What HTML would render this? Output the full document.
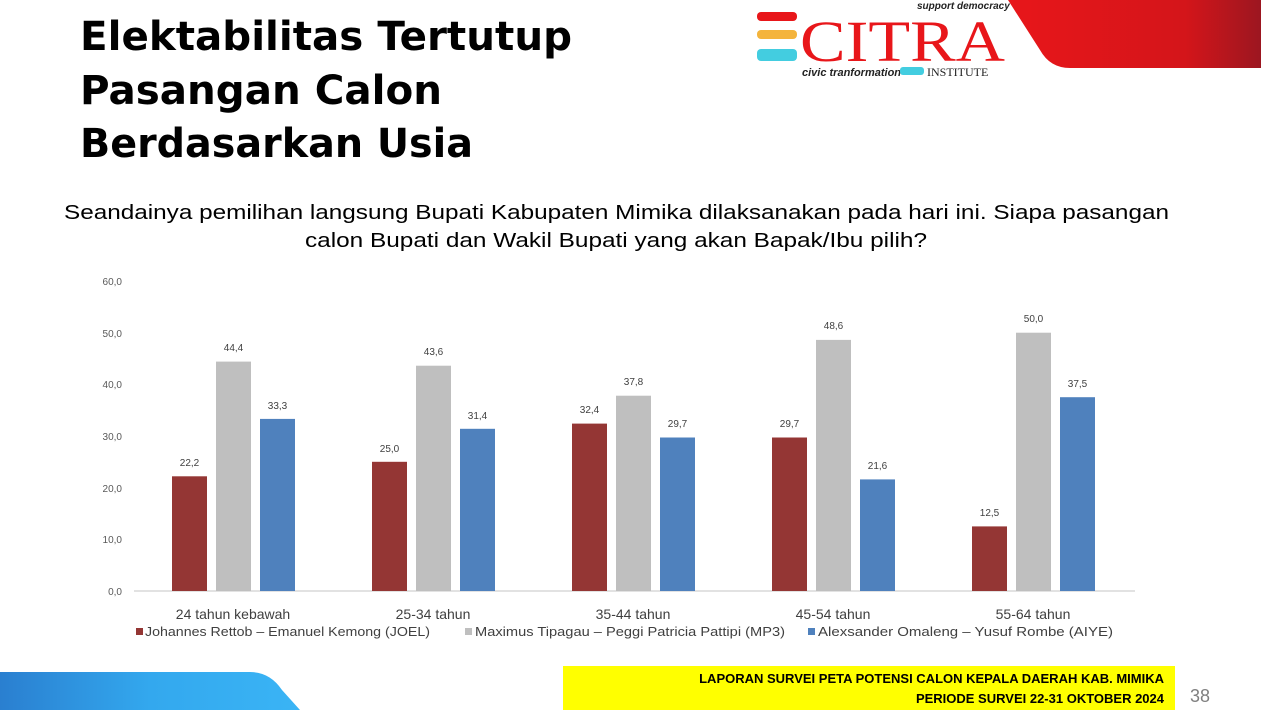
<!DOCTYPE html>
<html><head><meta charset="utf-8"><style>
html,body{margin:0;padding:0;background:#fff;}
body{width:1261px;height:710px;overflow:hidden;position:relative;font-family:"Liberation Sans",sans-serif;}
</style></head><body>
<svg width="1261" height="710" viewBox="0 0 1261 710" xmlns="http://www.w3.org/2000/svg" style="position:absolute;left:0;top:0">
<defs>
<linearGradient id="rg" x1="0" x2="1"><stop offset="0" stop-color="#e8161a"/><stop offset="0.7" stop-color="#d4151a"/><stop offset="1" stop-color="#9c1620"/></linearGradient>
<linearGradient id="bg" x1="0" x2="1"><stop offset="0" stop-color="#2a7fd0"/><stop offset="0.5" stop-color="#33a8ee"/><stop offset="1" stop-color="#3ab4f5"/></linearGradient>
</defs>
<path d="M1008 0 L1261 0 L1261 68 L1070 68 Q1050 68 1040 50 Z" fill="url(#rg)"/>
<rect x="757" y="12" width="40" height="9" rx="4" fill="#e8161a"/>
<rect x="757" y="30" width="40" height="9" rx="4" fill="#f4b43c"/>
<rect x="757" y="49" width="40" height="12" rx="4" fill="#43cde0"/>
<text x="800" y="61" font-family="Liberation Serif,serif" font-size="58" fill="#e8161a" textLength="205" lengthAdjust="spacingAndGlyphs">CITRA</text>
<text x="917" y="9" font-size="10" font-style="italic" font-weight="bold" fill="#222">support democracy</text>
<text x="802" y="76" font-size="11" font-style="italic" font-weight="bold" fill="#222">civic tranformation</text>
<rect x="900" y="67" width="24" height="8" rx="3" fill="#43cde0"/>
<text x="927" y="76" font-family="Liberation Serif,serif" font-size="12" fill="#222">INSTITUTE</text>
<g font-family="DejaVu Sans,sans-serif" font-weight="bold" font-size="40" fill="#000" lengthAdjust="spacingAndGlyphs">
<text x="80" y="50" textLength="492" lengthAdjust="spacingAndGlyphs">Elektabilitas Tertutup</text>
<text x="80" y="104" textLength="362" lengthAdjust="spacingAndGlyphs">Pasangan Calon</text>
<text x="80" y="157" textLength="393" lengthAdjust="spacingAndGlyphs">Berdasarkan Usia</text>
</g>
<g font-size="20" fill="#000">
<text x="64" y="219" textLength="1105" lengthAdjust="spacingAndGlyphs">Seandainya pemilihan langsung Bupati Kabupaten Mimika dilaksanakan pada hari ini. Siapa pasangan</text>
<text x="305" y="247" textLength="622" lengthAdjust="spacingAndGlyphs">calon Bupati dan Wakil Bupati yang akan Bapak/Ibu pilih?</text>
</g>
<g font-size="10" fill="#595959" text-anchor="end">
<text x="122" y="595">0,0</text><text x="122" y="543">10,0</text><text x="122" y="492">20,0</text><text x="122" y="440">30,0</text><text x="122" y="388">40,0</text><text x="122" y="337">50,0</text><text x="122" y="285">60,0</text>
</g>
<line x1="134" y1="591" x2="1135" y2="591" stroke="#d9d9d9" stroke-width="1.5"/>
<g>
<rect x="172" y="476.3" width="35" height="114.7" fill="#943634"/><rect x="216" y="361.6" width="35" height="229.4" fill="#bfbfbf"/><rect x="260" y="418.9" width="35" height="172.1" fill="#4f81bd"/>
<rect x="372" y="461.8" width="35" height="129.2" fill="#943634"/><rect x="416" y="365.7" width="35" height="225.3" fill="#bfbfbf"/><rect x="460" y="428.8" width="35" height="162.2" fill="#4f81bd"/>
<rect x="572" y="423.6" width="35" height="167.4" fill="#943634"/><rect x="616" y="395.7" width="35" height="195.3" fill="#bfbfbf"/><rect x="660" y="437.5" width="35" height="153.5" fill="#4f81bd"/>
<rect x="772" y="437.5" width="35" height="153.5" fill="#943634"/><rect x="816" y="339.9" width="35" height="251.1" fill="#bfbfbf"/><rect x="860" y="479.4" width="35" height="111.6" fill="#4f81bd"/>
<rect x="972" y="526.4" width="35" height="64.6" fill="#943634"/><rect x="1016" y="332.7" width="35" height="258.3" fill="#bfbfbf"/><rect x="1060" y="397.2" width="35" height="193.8" fill="#4f81bd"/>
</g>
<g font-size="10" fill="#404040" text-anchor="middle">
<text x="189.5" y="466">22,2</text><text x="233.5" y="351">44,4</text><text x="277.5" y="409">33,3</text>
<text x="389.5" y="452">25,0</text><text x="433.5" y="355">43,6</text><text x="477.5" y="419">31,4</text>
<text x="589.5" y="413">32,4</text><text x="633.5" y="385">37,8</text><text x="677.5" y="427">29,7</text>
<text x="789.5" y="427">29,7</text><text x="833.5" y="329">48,6</text><text x="877.5" y="469">21,6</text>
<text x="989.5" y="516">12,5</text><text x="1033.5" y="322">50,0</text><text x="1077.5" y="387">37,5</text>
</g>
<g font-size="14" fill="#404040" text-anchor="middle">
<text x="233" y="619">24 tahun kebawah</text><text x="433" y="619">25-34 tahun</text><text x="633" y="619">35-44 tahun</text><text x="833" y="619">45-54 tahun</text><text x="1033" y="619">55-64 tahun</text>
</g>
<g font-size="12.5" fill="#404040">
<rect x="136" y="628" width="7" height="7" fill="#943634"/><text x="145" y="636" textLength="285" lengthAdjust="spacingAndGlyphs">Johannes Rettob – Emanuel Kemong (JOEL)</text>
<rect x="465" y="628" width="7" height="7" fill="#bfbfbf"/><text x="475" y="636" textLength="310" lengthAdjust="spacingAndGlyphs">Maximus Tipagau – Peggi Patricia Pattipi (MP3)</text>
<rect x="808" y="628" width="7" height="7" fill="#4f81bd"/><text x="818" y="636" textLength="295" lengthAdjust="spacingAndGlyphs">Alexsander Omaleng – Yusuf Rombe (AIYE)</text>
</g>
<path d="M0 672 L250 672 Q270 672 282 690 L300 710 L0 710 Z" fill="url(#bg)"/>
<rect x="563" y="666" width="612" height="44" fill="#ffff00"/>
<g font-size="13" font-weight="bold" fill="#000" text-anchor="end">
<text x="1164" y="683">LAPORAN SURVEI PETA POTENSI CALON KEPALA DAERAH KAB. MIMIKA</text>
<text x="1164" y="703">PERIODE SURVEI 22-31 OKTOBER 2024</text>
</g>
<text x="1190" y="702" font-size="18" fill="#7f7f7f">38</text>
</svg>
</body></html>
